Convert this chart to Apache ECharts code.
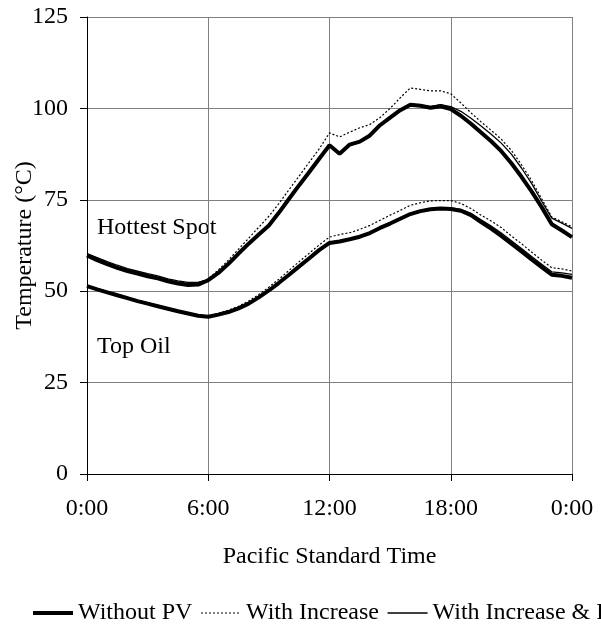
<!DOCTYPE html>
<html>
<head>
<meta charset="utf-8">
<script src="https://cdn.jsdelivr.net/npm/echarts@6/dist/echarts.min.js"></script>
<style>
  html, body { margin: 0; padding: 0; background: #fff; }
  #main { width: 601px; height: 625px; }
</style>
</head>
<body>
<div id="main"></div>
<script>
// half-hour steps, 0:00 .. 0:00 next day
var hours = [0, 0.5, 1, 1.5, 2, 2.5, 3, 3.5, 4, 4.5, 5, 5.5, 6,
  6.5, 7, 7.5, 8, 8.5, 9, 9.5, 10, 10.5, 11, 11.5, 12,
  12.5, 13, 13.5, 14, 14.5, 15, 15.5, 16, 16.5, 17, 17.5, 18,
  18.5, 19, 19.5, 20, 20.5, 21, 21.5, 22, 22.5, 23, 23.5, 24];

var hsWithoutPV = [59.8, 58.5, 57.4, 56.4, 55.5, 54.8, 54.1, 53.5, 52.7, 52.1, 51.7, 51.8, 53.0,
  55.0, 57.5, 60.3, 63.0, 65.5, 68.0, 71.5, 75.3, 79.0, 82.6, 86.3, 89.9,
  87.6, 90.1, 90.9, 92.6, 95.4, 97.5, 99.5, 101.0, 100.7, 100.2, 100.6, 99.8,
  98.0, 95.8, 93.4, 91.0, 88.3, 85.0, 81.3, 77.3, 73.0, 68.3, 66.6, 64.8];
var hsIncrease = [60.2, 59.0, 57.9, 56.9, 56.0, 55.3, 54.6, 54.0, 53.2, 52.6, 52.2, 52.3, 53.4,
  55.8, 58.5, 61.5, 64.5, 67.5, 70.5, 74.0, 77.8, 81.5, 85.3, 89.0, 93.3,
  92.2, 93.5, 94.7, 95.6, 97.5, 100.0, 102.9, 105.6, 105.2, 104.8, 104.8, 104.0,
  101.5, 98.8, 96.3, 94.0, 91.6, 88.5, 84.6, 80.3, 75.3, 70.3, 69.0, 67.6];
var hsIncreasePV = [60.3, 59.2, 58.1, 57.1, 56.2, 55.5, 54.8, 54.2, 53.4, 52.8, 52.4, 52.4, 53.2,
  55.2, 57.7, 60.5, 63.2, 65.7, 68.2, 71.7, 75.5, 79.2, 82.8, 86.5, 90.1,
  87.8, 90.3, 91.1, 92.8, 95.6, 97.7, 99.7, 101.2, 100.9, 100.5, 101.0, 100.5,
  99.2, 97.3, 95.2, 92.9, 90.5, 87.5, 83.7, 79.5, 74.6, 70.0, 68.6, 67.2];

var toWithoutPV = [51.4, 50.5, 49.7, 48.9, 48.1, 47.3, 46.6, 45.9, 45.2, 44.5, 43.9, 43.3, 43.0,
  43.6, 44.3, 45.3, 46.6, 48.3, 50.2, 52.3, 54.5, 56.8, 59.0, 61.3, 63.2,
  63.6, 64.2, 64.9, 65.9, 67.3, 68.5, 69.8, 71.1, 71.9, 72.4, 72.6, 72.5,
  72.0, 70.8, 68.9, 67.1, 65.1, 63.0, 60.9, 58.7, 56.6, 54.5, 54.2, 53.7];
var toIncrease = [51.6, 50.7, 49.9, 49.1, 48.3, 47.5, 46.8, 46.1, 45.4, 44.7, 44.1, 43.5, 43.2,
  43.9, 44.8, 45.9, 47.3, 49.1, 51.1, 53.3, 55.7, 58.1, 60.4, 62.7, 64.8,
  65.5, 66.0, 66.9, 68.0, 69.4, 70.8, 72.1, 73.5, 74.2, 74.7, 74.8, 74.8,
  74.0, 72.6, 70.8, 69.2, 67.4, 65.1, 63.0, 60.7, 58.5, 56.4, 56.1, 55.5];
var toIncreasePV = [51.6, 50.7, 49.9, 49.1, 48.3, 47.5, 46.8, 46.1, 45.4, 44.7, 44.1, 43.5, 43.2,
  43.8, 44.5, 45.5, 46.8, 48.5, 50.4, 52.5, 54.7, 57.0, 59.2, 61.5, 63.4,
  63.8, 64.4, 65.1, 66.1, 67.5, 68.7, 70.0, 71.3, 72.1, 72.6, 72.8, 72.8,
  72.4, 71.3, 69.5, 67.8, 65.9, 63.8, 61.7, 59.5, 57.4, 55.3, 55.0, 54.6];

var legendNames = ['Without PV', 'With Increase', 'With Increase & PV'];

function pairs(vals) {
  return hours.map(function (h, i) { return [h, vals[i]]; });
}

var font = 'Liberation Serif';
var fs = 24;
var thick = { color: '#000', width: 4 };
var dotted = { color: '#000', width: 1.2, type: [2, 2] };
var thin = { color: '#000', width: 1.3 };

function line(name, vals, style) {
  return {
    name: name,
    type: 'line',
    data: pairs(vals),
    symbol: 'none',
    showSymbol: false,
    itemStyle: { color: '#000' },
    lineStyle: style
  };
}

var chart = echarts.init(document.getElementById('main'), null, { renderer: 'canvas' });

var option = {
  animation: false,
  backgroundColor: '#fff',
  textStyle: { fontFamily: font, color: '#000' },
  grid: { left: 87, right: 29, top: 17, bottom: 151, containLabel: false, outerBoundsMode: 'none' },
  xAxis: {
    type: 'value',
    min: 0, max: 24, interval: 6,
    name: 'Pacific Standard Time',
    nameLocation: 'middle',
    nameGap: 71,
    nameMoveOverlap: false,
    nameTextStyle: { fontFamily: font, fontSize: fs, color: '#000' },
    axisLine: { show: true, lineStyle: { color: '#000', width: 1 } },
    axisTick: { show: true, length: 7, lineStyle: { color: '#000' } },
    axisLabel: {
      margin: 23, fontFamily: font, fontSize: fs, color: '#000',
      formatter: function (v) { return (v % 24) + ':00'; }
    },
    splitLine: { show: true, lineStyle: { color: '#808080', width: 1 } }
  },
  yAxis: {
    type: 'value',
    min: 0, max: 125, interval: 25,
    name: 'Temperature (°C)',
    nameLocation: 'middle',
    nameGap: 50,
    nameMoveOverlap: false,
    nameTextStyle: { fontFamily: font, fontSize: fs, color: '#000' },
    axisLine: { show: true, lineStyle: { color: '#000', width: 1 } },
    axisTick: { show: true, length: 7, lineStyle: { color: '#000' } },
    axisLabel: { margin: 19, fontFamily: font, fontSize: fs, color: '#000' },
    splitLine: { show: true, lineStyle: { color: '#808080', width: 1 } }
  },
  legend: {
    left: 26,
    top: 596,
    width: 900,
    itemWidth: 40,
    itemHeight: 14,
    itemGap: 8,
    itemStyle: { opacity: 0 },
    textStyle: { fontFamily: font, fontSize: fs, color: '#000' },
    data: [
      { name: legendNames[0], lineStyle: { width: 4, color: '#000' } },
      { name: legendNames[1], lineStyle: { width: 1.2, color: '#000', type: [2, 2] } },
      { name: legendNames[2], lineStyle: { width: 1.3, color: '#000' } }
    ]
  },
  graphic: [
    { type: 'text', x: 97, y: 228, style: { text: 'Hottest Spot', font: fs + 'px "Liberation Serif"', fill: '#000', verticalAlign: 'middle' } },
    { type: 'text', x: 97, y: 347, style: { text: 'Top Oil', font: fs + 'px "Liberation Serif"', fill: '#000', verticalAlign: 'middle' } }
  ],
  series: [
    line(legendNames[1], hsIncrease, dotted),
    line(legendNames[1], toIncrease, dotted),
    line(legendNames[2], hsIncreasePV, thin),
    line(legendNames[2], toIncreasePV, thin),
    line(legendNames[0], hsWithoutPV, thick),
    line(legendNames[0], toWithoutPV, thick)
  ]
};

chart.setOption(option);
</script>
</body>
</html>
